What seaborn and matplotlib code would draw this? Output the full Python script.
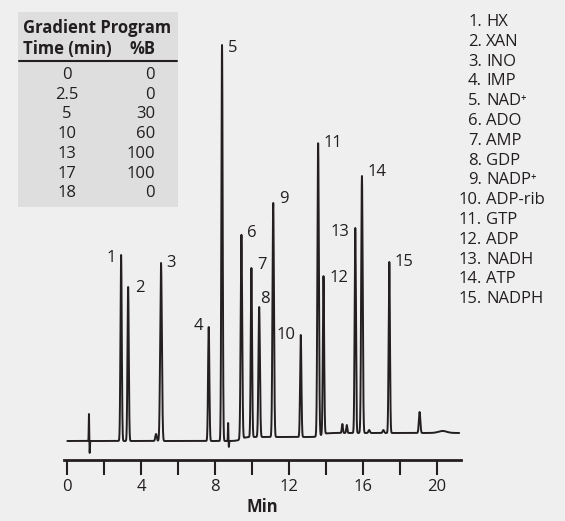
import numpy as np
import pandas as pd
import matplotlib
matplotlib.use("Agg")
import matplotlib.pyplot as plt
import seaborn as sns

# Peak table: retention time (min), apex height above local baseline, width (sigma, min)
peak_ids = [str(i) for i in range(1, 16)]
peak_times = [2.91, 3.29, 5.07, 7.65, 8.37, 9.42, 9.96, 10.38, 11.14, 12.63,
              13.57, 13.86, 15.58, 15.94, 17.42]
peak_heights = [186, 154, 178, 114, 396, 204, 169, 130, 234, 102,
                293, 158, 205, 257, 171]
peak_widths = [0.035, 0.035, 0.045, 0.035, 0.035, 0.04, 0.035, 0.04, 0.04, 0.035,
               0.04, 0.035, 0.035, 0.04, 0.035]

# Minor features: small bumps and injection/valve spikes
minor_times = [1.17, 1.21, 4.80, 8.70, 8.74, 14.88, 15.12, 16.33, 17.10, 19.06]
minor_heights = [27, -12, 7, 18, -6, 9, 8, 3, 3, 21]
minor_widths = [0.012, 0.012, 0.04, 0.012, 0.012, 0.03, 0.03, 0.04, 0.04, 0.04]

# Baseline drift as smooth steps (time, rise)
step_times = [9.4, 13.75, 20.1, 20.5]
step_rises = [4, 4, 3, -3]

compounds = ["HX", "XAN", "INO", "IMP", "NAD\u207a", "ADO", "AMP", "GDP", "NADP\u207a",
             "ADP-rib", "GTP", "ADP", "NADH", "ATP", "NADPH"]

grad_time = ["0", "2.5", "5", "10", "13", "17", "18"]
grad_b = ["0", "0", "30", "60", "100", "100", "0"]

# Label placement relative to each apex (points): dx, dy, horizontal alignment
label_dx = [-4, 5, 4, -4, 4, 4, 4, 1, 4, -4, 4, 4, -4, 4, 4]
label_dy = [-2, -1, 0, 1, -2, 1, 2, 6, 3, 0, 0, -1, -3, 3, 0]
label_ha = ["right", "left", "left", "right", "left", "left", "left", "left", "left",
            "right", "left", "left", "right", "left", "left"]

t = np.linspace(0.0, 21.2, 30000)
signal = np.zeros_like(t)
for st, sr in zip(step_times, step_rises):
    signal += sr / (1 + np.exp(-(t - st) / 0.12))
for pt, ph, pw in zip(peak_times + minor_times, peak_heights + minor_heights,
                      peak_widths + minor_widths):
    signal += ph * np.exp(-0.5 * ((t - pt) / pw) ** 2)

df = pd.DataFrame({"Min": t, "signal": signal})

sns.set_theme(style="white")
bg = "#efefef"
ink = "#231f20"
plt.rcParams["font.family"] = ["Open Sans", "DejaVu Sans"]
FS = 12

W, H = 565, 521
fig = plt.figure(figsize=(W / 100, H / 100), dpi=100, facecolor=bg)
ax = fig.add_axes([64 / W, (H - 460) / H, (461 - 64) / W, (460 - 40) / H])
ax.set_facecolor(bg)

sns.lineplot(data=df, x="Min", y="signal", ax=ax, color=ink, linewidth=1.4)

ax.set_xlim(-0.18, 21.3)
ax.set_ylim(-19, 401)
for s in ["left", "top", "right"]:
    ax.spines[s].set_visible(False)
ax.spines["bottom"].set_color(ink)
ax.spines["bottom"].set_linewidth(2)
ax.set_yticks([])
ax.set_xticks(np.arange(0, 21, 2))
ax.set_xticklabels([str(v) if v % 4 == 0 else "" for v in range(0, 21, 2)])
ax.tick_params(axis="x", bottom=True, direction="out", length=11, width=1.5, color=ink,
               labelsize=FS, labelcolor=ink, pad=3)
ax.set_xlabel("Min", fontsize=FS, fontweight="bold", color=ink, labelpad=2)
ax.set_ylabel("")

# Peak number labels
base_fn = lambda x: sum(sr / (1 + np.exp(-(x - st) / 0.12)) for st, sr in zip(step_times, step_rises))
for pid, pt, ph, dx, dy, ha in zip(peak_ids, peak_times, peak_heights, label_dx, label_dy, label_ha):
    ax.annotate(pid, xy=(pt, ph + base_fn(pt)), xytext=(dx, dy), textcoords="offset points",
                ha=ha, va="center", fontsize=FS, color=ink)

# Gradient program table
fig.patches.append(plt.Rectangle((18 / W, 1 - 207 / H), (178 - 18) / W, (207 - 12) / H,
                                 transform=fig.transFigure, facecolor="#dedede",
                                 edgecolor="none", zorder=0))
fig.text(97 / W, 1 - 28 / H, "Gradient Program", ha="center", va="center",
         fontsize=FS, fontweight="bold", color=ink)
fig.text(67 / W, 1 - 49 / H, "Time (min)", ha="center", va="center",
         fontsize=FS, fontweight="bold", color=ink)
fig.text(155 / W, 1 - 49 / H, "%B", ha="right", va="center",
         fontsize=FS, fontweight="bold", color=ink)
fig.add_artist(plt.Line2D([19 / W, 177 / W], [1 - 61 / H, 1 - 61 / H],
                          transform=fig.transFigure, color=ink, linewidth=1.5))
for i, (gt, gb) in enumerate(zip(grad_time, grad_b)):
    y = 1 - (75 + i * 19.7) / H
    fig.text(67 / W, y, gt, ha="center", va="center", fontsize=FS, color=ink)
    fig.text(155 / W, y, gb, ha="right", va="center", fontsize=FS, color=ink)

# Compound key
for i, name in enumerate(compounds):
    y = 1 - (22 + i * 19.8) / H
    fig.text(482 / W, y, f"{i + 1}.", ha="right", va="center", fontsize=FS, color=ink)
    fig.text(486 / W, y, name, ha="left", va="center", fontsize=FS, color=ink)

fig.savefig("out.png", dpi=100, facecolor=bg)
